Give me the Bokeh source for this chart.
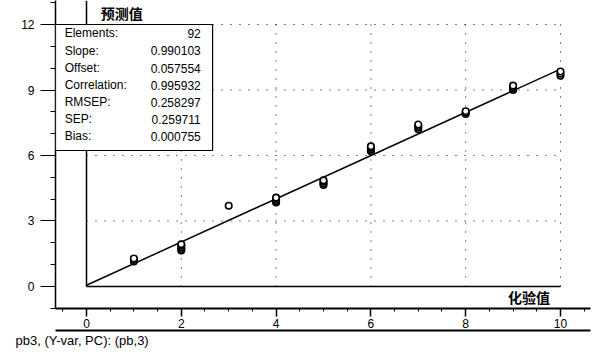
from bokeh.plotting import figure
from bokeh.models import (Range1d, LinearAxis, SingleIntervalTicker, FixedTicker,
                          BoxAnnotation, Label, Title)
from bokeh.embed import file_html
from bokeh.resources import INLINE

# ---- data ----
x_vals = [1, 1, 1,
          2, 2, 2, 2, 2,
          3,
          4, 4, 4, 4, 4,
          5, 5, 5, 5,
          6, 6, 6, 6,
          7, 7, 7, 7,
          8, 8, 8,
          9, 9, 9, 9,
          10, 10, 10]
y_vals = [1.15, 1.22, 1.28,
          1.65, 1.72, 1.8, 1.87, 1.93,
          3.7,
          3.85, 3.9, 3.96, 4.02, 4.07,
          4.65, 4.72, 4.8, 4.86,
          6.2, 6.28, 6.35, 6.42,
          7.2, 7.28, 7.35, 7.42,
          7.9, 7.97, 8.03,
          9.0, 9.07, 9.14, 9.2,
          9.65, 9.75, 9.85]
slope = 0.990103
offset = 0.057554
fit_x = [0, 10]
stat_names = ["Elements:", "Slope:", "Offset:", "Correlation:", "RMSEP:", "SEP:", "Bias:"]
stat_values = ["92", "0.990103", "0.057554", "0.995932", "0.258297", "0.259711", "0.000755"]
x_grid = [2, 4, 6, 8, 10]
y_grid = [3, 6, 9, 12]
footer_text = "pb3, (Y-var, PC): (pb,3)"

FONT = "Liberation Sans"
CJK = "Noto Sans CJK SC"

X0, X1 = -0.654, 10.633
Y0, Y1 = -1.008, 13.1

p = figure(width=600, height=358, output_backend="svg", toolbar_location=None,
           x_range=Range1d(X0, X1), y_range=Range1d(Y0, Y1),
           x_axis_location=None, y_axis_location=None,
           min_border_left=55, min_border_right=10, min_border_top=0, min_border_bottom=50)
p.outline_line_color = None
p.grid.visible = False
p.background_fill_color = "white"
p.border_fill_color = "white"

# y axis
yax = LinearAxis(ticker=SingleIntervalTicker(interval=3, num_minor_ticks=3))
yax.major_tick_out = 15
yax.major_tick_in = 0
yax.minor_tick_out = 5
yax.minor_tick_in = 0
yax.major_label_standoff = 6
yax.axis_line_width = 1.5
yax.major_tick_line_width = 1.2
yax.major_label_text_font = FONT
yax.major_label_text_font_size = "12px"
yax.major_label_text_color = "black"
p.add_layout(yax, "left")

# x axis
xax = LinearAxis(ticker=SingleIntervalTicker(interval=2, num_minor_ticks=4))
xax.major_tick_out = 8
xax.major_tick_in = 0
xax.minor_tick_out = 3
xax.minor_tick_in = 0
xax.major_label_standoff = 2
xax.axis_line_width = 2
xax.major_tick_line_width = 1.5
xax.major_label_text_font = FONT
xax.major_label_text_font_size = "12px"
xax.major_label_text_color = "black"
p.add_layout(xax, "below")

# lower rule as an empty axis
xax2 = LinearAxis(ticker=FixedTicker(ticks=[]))
xax2.major_label_text_font_size = "0px"
xax2.major_tick_out = 0
xax2.minor_tick_out = 0
xax2.axis_line_width = 2
p.add_layout(xax2, "below")

# footer
p.add_layout(Title(text=footer_text, align="left", offset=-40, standoff=0,
                   text_font=FONT, text_font_size="13px", text_font_style="normal",
                   text_color="black"), "below")

# dotted grid
p.segment(x0=x_grid, y0=[0] * len(x_grid), x1=x_grid, y1=[12] * len(x_grid),
          line_color="black", line_width=1, line_dash="1 8")
p.segment(x0=[0] * len(y_grid), y0=y_grid, x1=[10] * len(y_grid), y1=y_grid,
          line_color="black", line_width=1, line_dash="1 8")

# frame lines at x=0 and y=0
p.segment(x0=[0, 0], y0=[0, 0], x1=[0, 10], y1=[Y1, 0], line_color="black", line_width=1.5)

# fit line
p.line(fit_x, [slope * v + offset for v in fit_x], line_color="black", line_width=1.5)

# points
p.scatter(x_vals, y_vals, marker="circle", size=6.5, fill_color="white",
          line_color="black", line_width=1.6)

# statistics box
box = BoxAnnotation(left=X0, right=2.66, top=12.0, bottom=6.23,
                    fill_color="white", fill_alpha=1.0,
                    line_color="black", line_width=1.2, line_alpha=1.0)
p.add_layout(box)

row_y = [11.59, 10.8, 10.0, 9.22, 8.44, 7.66, 6.88]
for name, val, yy in zip(stat_names, stat_values, row_y):
    p.add_layout(Label(x=-0.46, y=yy, text=name, text_font=FONT, text_font_size="12px",
                       text_baseline="middle", text_align="left", text_color="black"))
    p.add_layout(Label(x=2.41, y=yy, text=val, text_font=FONT, text_font_size="12px",
                       text_baseline="middle", text_align="right", text_color="black"))

# axis titles
p.add_layout(Label(x=0.3, y=12.55, text="预测值", text_font=CJK, text_font_size="14px",
                   text_font_style="bold", text_baseline="middle", text_align="left",
                   text_color="black"))
p.add_layout(Label(x=9.78, y=-0.5, text="化验值", text_font=CJK, text_font_size="14px",
                   text_font_style="bold", text_baseline="middle", text_align="right",
                   text_color="black"))

open("out.html", "w").write(file_html(p, INLINE))
